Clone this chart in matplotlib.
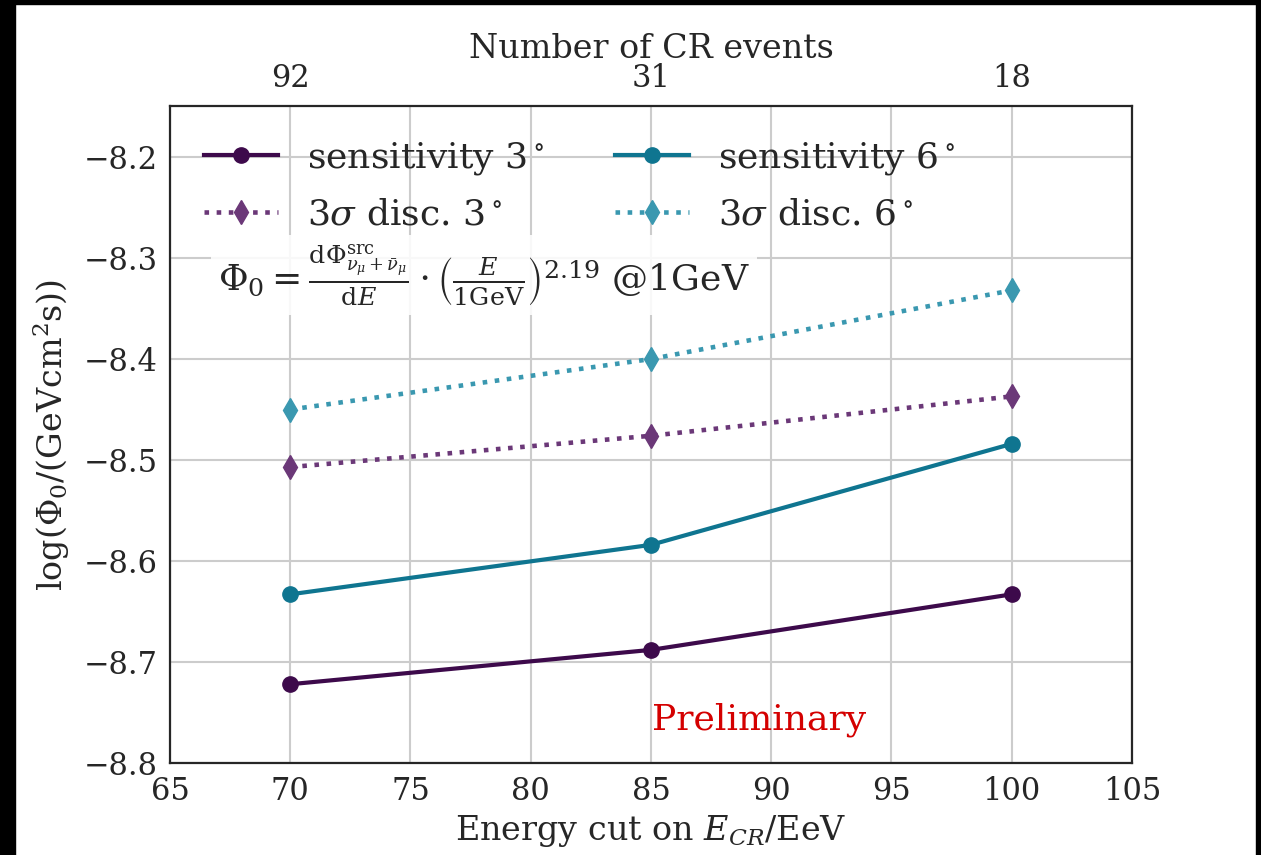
import matplotlib
matplotlib.use("Agg")
import matplotlib.pyplot as plt
from matplotlib.patches import Rectangle

# Energy cuts and corresponding number of cosmic-ray events
energy_cut = [70, 85, 100]
cr_events = ["92", "31", "18"]

# log10 flux normalisation values
sens_3deg = [-8.722, -8.688, -8.633]
sens_6deg = [-8.633, -8.584, -8.484]
disc_3deg = [-8.507, -8.476, -8.437]
disc_6deg = [-8.450, -8.400, -8.332]

x_ticks = [65, 70, 75, 80, 85, 90, 95, 100, 105]
y_ticks = [-8.8, -8.7, -8.6, -8.5, -8.4, -8.3, -8.2]

plt.rcParams["font.family"] = ["DejaVu Serif"]
plt.rcParams["mathtext.fontset"] = "dejavuserif"

text_col = "#262626"
fig = plt.figure(figsize=(12.61, 8.55), dpi=100)
ax = fig.add_axes([0.1348, 0.1076, 0.8977 - 0.1348, 0.876 - 0.1076])

ax.set_xlim(65, 105)
ax.set_ylim(-8.8, -8.1495)
ax.set_xticks(x_ticks)
ax.set_yticks(y_ticks)
ax.set_yticklabels([f"\u2212{abs(v):.1f}" for v in y_ticks])
ax.grid(True, color="#cccccc", linewidth=1.5)
ax.set_axisbelow(True)
for s in ax.spines.values():
    s.set_color(text_col)
    s.set_linewidth(1.6)
ax.tick_params(axis="both", labelsize=22, colors=text_col, length=0, pad=9)

c_s3 = "#3d0a4b"
c_s6 = "#0f7590"
c_d3 = "#6b3878"
c_d6 = "#3a98b0"

ax.plot(energy_cut, sens_3deg, "-o", color=c_s3, lw=3.0, ms=11,
        label=r"sensitivity 3$^\circ$")
ax.plot(energy_cut, disc_3deg, ":d", color=c_d3, lw=3.3, ms=12,
        label=r"3$\sigma$ disc. 3$^\circ$")
ax.plot(energy_cut, sens_6deg, "-o", color=c_s6, lw=3.0, ms=11,
        label=r"sensitivity 6$^\circ$")
ax.plot(energy_cut, disc_6deg, ":d", color=c_d6, lw=3.3, ms=12,
        label=r"3$\sigma$ disc. 6$^\circ$")

leg = ax.legend(loc="upper left", ncol=2, frameon=False, fontsize=26,
                handlelength=2.05, handletextpad=0.8, columnspacing=1.95,
                borderaxespad=0.55, labelspacing=0.57)
for t in leg.get_texts():
    t.set_color(text_col)

ax.text(0.05, 0.743,
        r"$\Phi_0 = \frac{\mathrm{d}\Phi^{\mathrm{src}}_{\nu_\mu + \bar{\nu}_\mu}}"
        r"{\mathrm{d}E} \cdot \left(\frac{E}{1\mathrm{GeV}}\right)^{2.19}$ @1GeV",
        transform=ax.transAxes, fontsize=26, color=text_col,
        ha="left", va="center",
        bbox=dict(boxstyle="square,pad=0.2", facecolor="white",
                  edgecolor="none", alpha=0.88))

ax.text(85.04, -8.757, "Preliminary", color="#d40000", fontsize=26,
        ha="left", va="center")

ax.set_xlabel(r"Energy cut on $E_{CR}$/EeV", fontsize=24, color=text_col,
              labelpad=5)
ax.set_ylabel(r"$\log(\Phi_0/(\mathrm{GeVcm}^2\mathrm{s}))$", fontsize=24,
              color=text_col, labelpad=8)

# Upper axis: number of CR events surviving each energy cut
ax2 = ax.twiny()
ax2.set_xlim(ax.get_xlim())
ax2.set_xticks(energy_cut)
ax2.set_xticklabels(cr_events)
ax2.tick_params(axis="x", labelsize=22, colors=text_col, length=0, pad=9)
ax2.grid(False)
for s in ax2.spines.values():
    s.set_visible(False)
ax2.set_xlabel("Number of CR events", fontsize=24, color=text_col, labelpad=3)

# dark frame strips around the figure edge
fig.patches.append(Rectangle((0, 0), 15 / 1261, 1, transform=fig.transFigure,
                             color="black", zorder=10))
fig.patches.append(Rectangle((0, 1 - 4 / 855), 1, 4 / 855,
                             transform=fig.transFigure, color="black", zorder=10))
fig.patches.append(Rectangle((1 - 5 / 1261, 0), 5 / 1261, 1,
                             transform=fig.transFigure, color="black", zorder=10))

fig.savefig("out.png", dpi=100)
